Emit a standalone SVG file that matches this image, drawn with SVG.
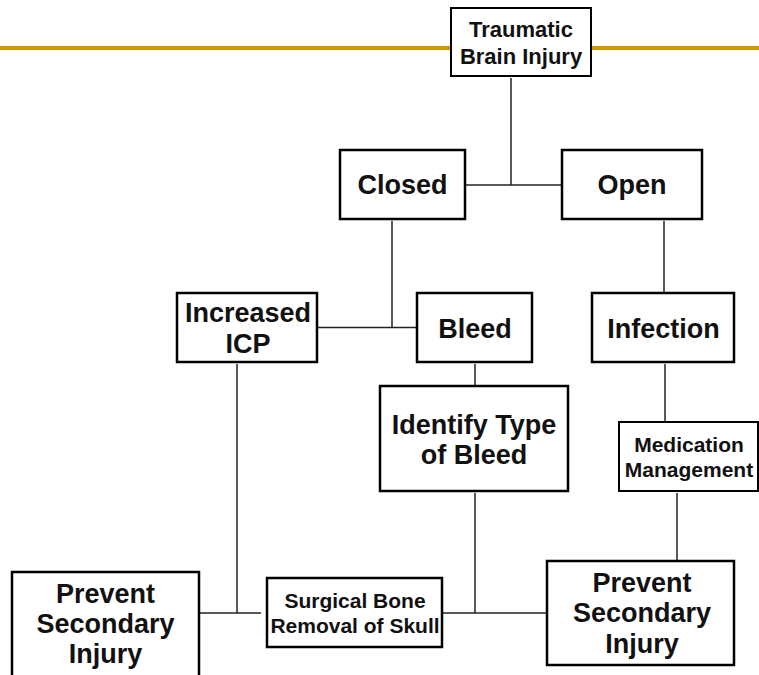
<svg xmlns="http://www.w3.org/2000/svg" width="759" height="675" viewBox="0 0 759 675">
<style>
.box{fill:#fff;stroke:#000;stroke-width:2.5}
.thin{stroke-width:2}
.t{font-family:"Liberation Sans",Arial,sans-serif;font-weight:bold;fill:#111;text-anchor:middle}
.big{font-size:27px}
.mid{font-size:22px}
.sm{font-size:21px}
.c{stroke:#222;stroke-width:1.5;fill:none}
</style>
<rect x="0" y="46" width="759" height="4" fill="#CC9900"/>
<g id="connectors">
<line class="c" x1="511" y1="78" x2="511" y2="185"/>
<line class="c" x1="465" y1="185" x2="562" y2="185"/>
<line class="c" x1="392" y1="221" x2="392" y2="327.5"/>
<line class="c" x1="318" y1="327.5" x2="416" y2="327.5"/>
<line class="c" x1="664" y1="221" x2="664" y2="292"/>
<line class="c" x1="475" y1="364" x2="475" y2="386"/>
<line class="c" x1="665" y1="364" x2="665" y2="422"/>
<line class="c" x1="237" y1="364" x2="237" y2="613"/>
<line class="c" x1="475" y1="493" x2="475" y2="613"/>
<line class="c" x1="677" y1="493" x2="677" y2="564"/>
<line class="c" x1="200" y1="613" x2="261" y2="613"/>
<line class="c" x1="443" y1="613" x2="547" y2="613"/>
</g>
<g id="tbi">
<rect class="box thin" x="451" y="8" width="140" height="68"/>
<text class="t mid" x="521" y="36.5">Traumatic</text>
<text class="t mid" x="521" y="63.5">Brain Injury</text>
</g>
<g id="closed">
<rect class="box" x="340" y="150" width="125" height="69"/>
<text class="t big" x="402.5" y="194">Closed</text>
</g>
<g id="open">
<rect class="box" x="562" y="150" width="140" height="69"/>
<text class="t big" x="632" y="194">Open</text>
</g>
<g id="icp">
<rect class="box" x="177" y="293" width="140" height="69"/>
<text class="t big" x="248" y="321.5">Increased</text>
<text class="t big" x="248" y="353">ICP</text>
</g>
<g id="bleed">
<rect class="box" x="417" y="293" width="115" height="69"/>
<text class="t big" x="475" y="337.5">Bleed</text>
</g>
<g id="infection">
<rect class="box" x="592" y="293" width="142" height="69"/>
<text class="t big" x="663.5" y="337.5">Infection</text>
</g>
<g id="identify">
<rect class="box" x="380" y="386" width="188" height="105"/>
<text class="t big" x="474" y="434">Identify Type</text>
<text class="t big" x="474" y="464">of Bleed</text>
</g>
<g id="medication">
<rect class="box thin" x="619" y="422" width="139" height="69"/>
<text class="t sm" x="689" y="451.5">Medication</text>
<text class="t sm" x="689" y="476.5">Management</text>
</g>
<g id="surgical">
<rect class="box" x="267" y="578" width="175" height="69"/>
<text class="t sm" x="355" y="608.3">Surgical Bone</text>
<text class="t sm" x="355" y="632.7">Removal of Skull</text>
</g>
<g id="prevent-left">
<rect class="box" x="12" y="572" width="187" height="120"/>
<text class="t big" x="105.5" y="602.7">Prevent</text>
<text class="t big" x="105.5" y="633.3">Secondary</text>
<text class="t big" x="105.5" y="662.7">Injury</text>
</g>
<g id="prevent-right">
<rect class="box" x="547" y="561" width="187" height="104"/>
<text class="t big" x="642" y="592">Prevent</text>
<text class="t big" x="642" y="622">Secondary</text>
<text class="t big" x="642" y="653">Injury</text>
</g>
</svg>
